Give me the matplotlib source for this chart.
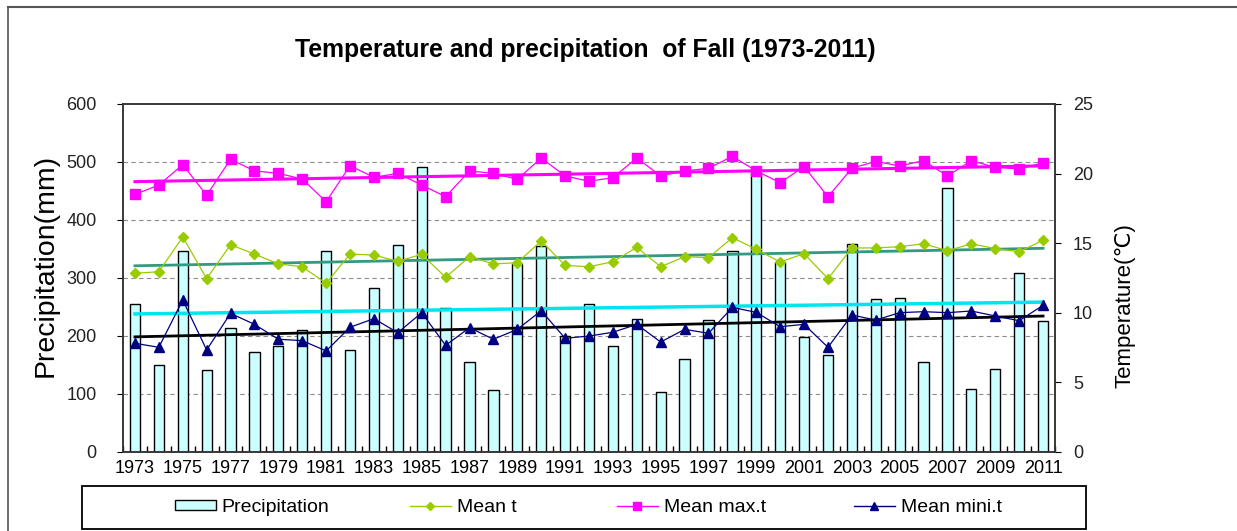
import numpy as np
import matplotlib
matplotlib.use("Agg")
import matplotlib.pyplot as plt
from matplotlib.lines import Line2D
from matplotlib.patches import Patch, Rectangle

years = list(range(1973, 2012))
precip = [255, 150, 346, 141, 214, 172, 183, 210, 346, 176, 283, 357, 491,
          248, 156, 107, 325, 355, 200, 255, 183, 230, 103, 161, 228,
          346, 483, 328, 199, 167, 359, 263, 265, 156, 455, 108, 143, 308, 226]
mean_t = [12.84, 12.95, 15.45, 12.45, 14.89, 14.22, 13.51, 13.31, 12.12, 14.22, 14.15, 13.70, 14.20,
          12.55, 14.03, 13.51, 13.60, 15.16, 13.41, 13.31, 13.67, 14.70, 13.31, 14.03, 13.96,
          15.40, 14.56, 13.65, 14.25, 12.45, 14.66, 14.66, 14.75, 14.96, 14.46, 14.96, 14.61, 14.39, 15.21]
mean_max = [18.51, 19.18, 20.64, 18.44, 21.03, 20.19, 20.02, 19.61, 17.98, 20.57, 19.73, 20.02, 19.18,
            18.34, 20.19, 20.02, 19.59, 21.12, 19.83, 19.45, 19.71, 21.12, 19.83, 20.19, 20.38,
            21.24, 20.19, 19.35, 20.50, 18.34, 20.38, 20.88, 20.55, 20.93, 19.83, 20.93, 20.45, 20.33, 20.78]
mean_min = [7.81, 7.52, 10.92, 7.33, 9.96, 9.17, 8.10, 8.00, 7.26, 8.96, 9.58, 8.57, 10.01,
            7.66, 8.93, 8.10, 8.81, 10.15, 8.17, 8.33, 8.60, 9.17, 7.90, 8.81, 8.53,
            10.39, 10.03, 9.00, 9.17, 7.52, 9.84, 9.48, 10.01, 10.08, 10.01, 10.13, 9.77, 9.43, 10.54]
labels = [str(y) if (y - 1973) % 2 == 0 else "" for y in years]
legend_names = ["Precipitation", "Mean t", "Mean max.t", "Mean mini.t"]

FONT = ["Liberation Sans", "DejaVu Sans"]
plt.rcParams["font.family"] = FONT

W, H = 1237, 531
fig = plt.figure(figsize=(W / 100, H / 100), dpi=100)
ax = fig.add_axes([123 / W, 1 - 452 / H, (1055 - 123) / W, (452 - 104) / H])
ax2 = ax.twinx()

x = np.arange(len(years))
ax.bar(x, precip, width=0.43, color="#CCFFFF", edgecolor="black", linewidth=1.0, zorder=2)
ax.set_ylim(0, 600)
ax.set_xlim(-0.5, len(years) - 0.5)
ax.set_yticks(range(0, 601, 100))
for v in range(100, 600, 100):
    ax.axhline(v, color="#8c8c8c", linestyle=(0, (4, 3)), linewidth=0.8, zorder=1)


def trend(vals):
    c = np.polyfit(x, vals, 1)
    return np.polyval(c, x)


ax.plot(x, trend(precip), color="#00E5EE", linewidth=2.5, zorder=3)

ax2.set_zorder(ax.get_zorder() + 1)
ax2.patch.set_visible(False)
ax2.plot(x, mean_max, color="#FF00FF", linewidth=0.9, marker="s", markersize=7, zorder=4)
ax2.plot(x, mean_t, color="#99CC00", linewidth=0.9, marker="D", markersize=5.5, zorder=4)
ax2.plot(x, mean_min, color="#000080", linewidth=0.9, marker="^", markersize=7, zorder=4)
ax2.plot(x, trend(mean_max), color="#FF00FF", linewidth=2.2, zorder=3)
ax2.plot(x, trend(mean_t), color="#339980", linewidth=2.0, zorder=3)
ax2.plot(x, trend(mean_min), color="black", linewidth=2.0, zorder=3)
ax2.set_ylim(0, 25)
ax2.set_yticks(range(0, 26, 5))

ax.set_xticks(x)
ax.set_xticklabels(labels, fontsize=13)
ax.tick_params(axis="x", length=0, pad=6)
ax.set_xticks(np.arange(-0.5, len(years), 1.0), minor=True)
ax.tick_params(axis="x", which="minor", direction="in", length=4, width=1)
ax.tick_params(axis="y", labelsize=13, length=4, pad=15)
ax2.tick_params(axis="y", labelsize=13, length=4, pad=9)
for t in ax.get_yticklabels() + ax2.get_yticklabels():
    t.set_color("#222222")
for a in (ax, ax2):
    for s in a.spines.values():
        s.set_linewidth(1.1)
        s.set_color("#333333")

fig.text(46 / W, 1 - 265 / H, "Precipitation(mm)", rotation=90, fontsize=20.5,
         ha="center", va="center")
fig.text(1125 / W, 1 - 306 / H, "Temperature(\u2103)", rotation=90, fontsize=16,
         ha="center", va="center", family=FONT)
fig.text(585 / W, 1 - 50 / H, "Temperature and precipitation  of Fall (1973-2011)",
         fontsize=17.8, fontweight="bold", ha="center", va="center")

# legend box
fig.add_artist(Rectangle((82 / W, 1 - 529 / H), (1086 - 82) / W, (529 - 486) / H,
                         transform=fig.transFigure, facecolor="white",
                         edgecolor="black", linewidth=1.3, zorder=5))
handles = [
    Patch(facecolor="#CCFFFF", edgecolor="black", linewidth=1.0),
    Line2D([], [], color="#99CC00", marker="D", markersize=4, linewidth=1),
    Line2D([], [], color="#FF00FF", marker="s", markersize=6, linewidth=1),
    Line2D([], [], color="#000080", marker="^", markersize=6, linewidth=1),
]
starts = [175, 410, 617, 854]
for h, n, xs in zip(handles, legend_names, starts):
    lg = fig.legend([h], [n], loc="center left",
                    bbox_to_anchor=(xs / W, 1 - 507.5 / H), frameon=False,
                    fontsize=14, borderpad=0, borderaxespad=0,
                    handlelength=2.1, handleheight=0.45, handletextpad=0.3)
    lg.set_zorder(6)

# outer frame
fig.add_artist(Line2D([8 / W, 1.0], [1 - 7 / H, 1 - 7 / H], color="#555555", linewidth=1.5,
                      transform=fig.transFigure))
fig.add_artist(Line2D([8 / W, 8 / W], [0, 1 - 7 / H], color="#555555", linewidth=1.2,
                      transform=fig.transFigure))

fig.savefig("out.png", dpi=100)
